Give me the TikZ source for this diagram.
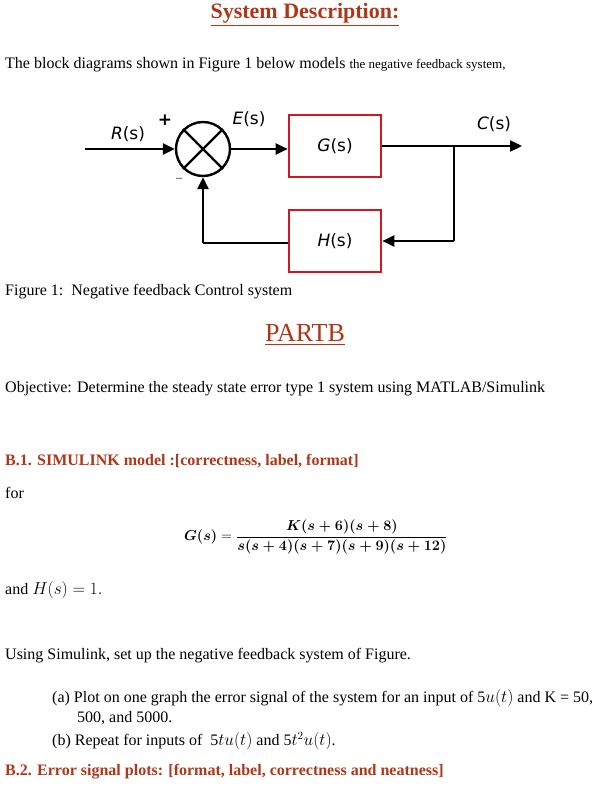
\documentclass[tikz,border=0pt]{standalone}
\usepackage{amsmath}
\usepackage{fontspec}
\setmainfont{Liberation Serif}
\newfontfamily\dejavu{DejaVu Sans}
\usepackage{tikz}
\usetikzlibrary{positioning, arrows.meta}
\definecolor{headred}{RGB}{175,55,25}
\definecolor{boxred}{RGB}{205,25,35}
\tikzset{T/.style={anchor=west, inner sep=0pt, font=\fontsize{16}{19}\selectfont}}
\tikzset{H/.style={anchor=west, inner sep=0pt, text=headred, font=\fontsize{16}{19}\selectfont\bfseries}}
\tikzset{B/.style={draw=boxred, line width=2.6pt, minimum width=92pt, minimum height=62pt, font=\dejavu\fontsize{17}{20}\selectfont}}
\tikzset{L/.style={inner sep=0pt, font=\dejavu\fontsize{17}{20}\selectfont}}
\tikzset{E/.style={draw, line width=2.4pt, -{Triangle[length=12pt,width=11pt]}}}
\tikzset{W/.style={draw, line width=2.4pt}}
\newcommand{\Ulin}[1]{\underline{#1}}
\newcommand{\Sg}[1]{{\itshape #1}(s)}

\begin{document}
\begin{tikzpicture}[x=1pt, y=-1pt]
    \useasboundingbox (0,0) rectangle (601,787);

    %% Text above
    \node (title) [inner sep=0pt, text=headred, font=\fontsize{22}{24}\selectfont\bfseries] at (305,15) {\Ulin{System Description:}};
    \node (intro) [T] at (5,65) {The block diagrams shown in Figure 1 below models {\fontsize{13}{16}\selectfont the negative feedback system,}};

    %% Block diagram
    \node (sum) [draw, circle, line width=2.4pt, minimum size=54pt, inner sep=0pt] at (203,149) {};
    \draw [line width=2.4pt] (sum.north west) -- (sum.south east) (sum.north east) -- (sum.south west);
    \node (G) [B] at (335,146) {\Sg{G}};
    \node (Hb) [B] at (335,241) {\Sg{H}};
    \coordinate (in) at (85,149);
    \coordinate (out) at (522,146);
    \coordinate (br) at (454,146);
    \coordinate (fb) at (203,243);

    \draw [E] (in) -- (sum);
    \draw [E] (sum.east) -- (G.west |- sum.east);
    \draw [E] (G.east) -- (out);
    \draw [W] (br) -- (br |- Hb.east);
    \draw [E] (br |- Hb.east) -- (Hb.east);
    \draw [W] (Hb.west |- fb) -- (fb);
    \draw [E] (fb) -- (sum.south);

    \node (lR) [L] at (128,134) {\Sg{R}};
    \node (lp) [L, font=\dejavu\bfseries\fontsize{17}{20}\selectfont] at (165,120) {+};
    \node (lm) [L, font=\fontsize{12}{14}\selectfont] at (179,180) {--};
    \node (lE) [L] at (249,119) {\Sg{E}};
    \node (lC) [L] at (494,124) {\Sg{C}};

    \node (cap) [T] at (5,292) {Figure 1:\ \ Negative feedback Control system};

    %% Part B
    \node (partb) [inner sep=0pt, text=headred, font=\fontsize{26}{28}\selectfont] at (305,335) {\Ulin{PARTB}};
    \node (obj) [T] at (5,389) {Objective: Determine the steady state error type 1 system using MATLAB/Simulink};
    \node (b1) [H] at (5,461) {B.1. SIMULINK model :[correctness, label, format]};
    \node (for) [T] at (5,493) {for};
    \node (eq) [inner sep=0pt, font=\fontsize{15.5}{18}\selectfont, anchor=west] at (184,537)
        {$\boldsymbol{G(s)} = \dfrac{\boldsymbol{K(s+6)(s+8)}}{\boldsymbol{s(s+4)(s+7)(s+9)(s+12)}}$};
    \node (hs) [T] at (5,590) {and $H(s)=1.$};
    \node (use) [T] at (5,656) {Using Simulink, set up the negative feedback system of Figure.};
    \node (qa) [T] at (52,698) {(a) Plot on one graph the error signal of the system for an input of 5$u(t)$ and K = 50,};
    \node (qa2) [T] at (77,718) {500, and 5000.};
    \node (qb) [T] at (52,741) {(b) Repeat for inputs of \ 5$tu(t)$ and 5$t^2u(t)$.};
    \node (b2) [H] at (5,772) {B.2. Error signal plots: [format, label, correctness and neatness]};
\end{tikzpicture}
\end{document}
